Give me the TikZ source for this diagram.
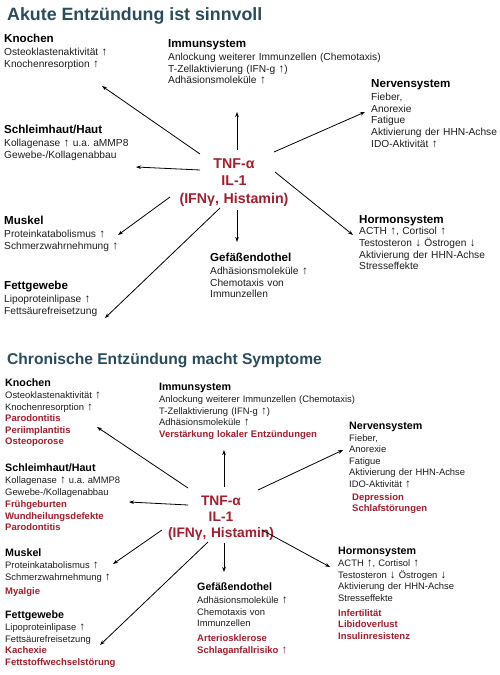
\documentclass[tikz,border=0pt]{standalone}
\usepackage{fontspec}
\setmainfont{Liberation Sans}
\usetikzlibrary{arrows.meta}
\definecolor{ttl}{HTML}{2B4C5A}
\definecolor{dred}{HTML}{A31F2E}
\definecolor{txt}{HTML}{1E1E1E}
\frenchspacing
\newcommand\hdA[1]{{\fontsize{11.6}{13}\selectfont\bfseries\color{black}#1}}
\newcommand\hdB[1]{{\fontsize{10.7}{12}\selectfont\bfseries\color{black}#1}}
\newcommand\rd[1]{{\color{dred}\fontsize{9.5}{11}\selectfont\bfseries #1}}
\newcommand\up{{\fontsize{11.5}{11}\selectfont ↑}}
\newcommand\dn{{\fontsize{11.5}{11}\selectfont ↓}}
\begin{document}
\begin{tikzpicture}[x=1pt,y=-1pt,
  blkA/.style={anchor=base west, inner sep=0pt, text width=300pt, align=left,
    font=\fontsize{10.2}{11.7}\selectfont, text=txt},
  blkB/.style={anchor=base west, inner sep=0pt, text width=300pt, align=left,
    font=\fontsize{9.4}{11.5}\selectfont, text=txt},
  tnfA/.style={anchor=base, inner sep=0pt, text width=160pt, align=center,
    font=\fontsize{14.2}{17.5}\selectfont\bfseries, text=dred},
  tnfB/.style={anchor=base, inner sep=0pt, text width=160pt, align=center,
    font=\fontsize{13.8}{16}\selectfont\bfseries, text=dred},
  ttlstyle/.style={anchor=base west, inner sep=0pt, font=\bfseries, text=ttl},
  arr/.style={draw=black, line width=0.8pt, -{Stealth[length=5pt,width=3.6pt]}}]
\fill[white] (0,0) rectangle (500,675);
\useasboundingbox (0,0) rectangle (500,675);

% ---------------- top panel ----------------
\node[ttlstyle, font=\fontsize{17.8}{20}\selectfont\bfseries] (titleA) at (7,20) {Akute Entzündung ist sinnvoll};

\node[blkA] (knA) at (4,42) {\hdA{Knochen}\\[1.6pt]
  Osteoklastenaktivität \up\\
  Knochenresorption \up};
\node[blkA] (imA) at (168,47) {\hdA{Immunsystem}\\[1.6pt]
  Anlockung weiterer Immunzellen (Chemotaxis)\\
  T-Zellaktivierung (IFN-g \up)\\
  Adhäsionsmoleküle \up};
\node[blkA] (neA) at (371,87) {\hdA{Nervensystem}\\[1.6pt]
  Fieber,\\
  Anorexie\\
  Fatigue\\
  Aktivierung der HHN-Achse\\
  IDO-Aktivität \up};
\node[blkA] (scA) at (4,133) {\hdA{Schleimhaut/Haut}\\[1.6pt]
  Kollagenase \up{} u.a. aMMP8\\
  Gewebe-/Kollagenabbau};
\node[blkA] (muA) at (4,224) {\hdA{Muskel}\\[1.6pt]
  Proteinkatabolismus \up\\
  Schmerzwahrnehmung \up};
\node[blkA] (feA) at (4,289) {\hdA{Fettgewebe}\\[1.6pt]
  Lipoproteinlipase \up\\
  Fettsäurefreisetzung};
\node[blkA] (geA) at (210,261) {\hdA{Gefäßendothel}\\[1.6pt]
  Adhäsionsmoleküle \up\\
  Chemotaxis von\\
  Immunzellen};
\node[blkA] (hoA) at (359,223) {\hdA{Hormonsystem}\\[0pt]
  ACTH \up, Cortisol \up\\
  Testosteron \dn{} Östrogen \dn\\
  Aktivierung der HHN-Achse\\
  Stresseffekte};
\node[tnfA] (tnfA) at (234,168) {TNF-α\\ IL-1\\ (IFNγ, Histamin)};

\coordinate (aKs) at (200,154); \coordinate (aKe) at (102,86);
\coordinate (aIs) at (237,150); \coordinate (aIe) at (237,112);
\coordinate (aNs) at (274,152); \coordinate (aNe) at (365,112);
\coordinate (aSs) at (200,170); \coordinate (aSe) at (136,167);
\coordinate (aMs) at (170,197); \coordinate (aMe) at (118,235);
\coordinate (aFs) at (220,208); \coordinate (aFe) at (105,318);
\coordinate (aGs) at (237,210); \coordinate (aGe) at (237,242);
\coordinate (aHs) at (275,172); \coordinate (aHe) at (353,235);
\foreach \n in {K,I,N,S,M,F,G,H} \draw[arr] (a\n s) -- (a\n e);

% ---------------- bottom panel ----------------
\node[ttlstyle, font=\fontsize{15.6}{18}\selectfont\bfseries] (titleB) at (7,364) {Chronische Entzündung macht Symptome};

\node[blkB] (knB) at (5,386) {\hdB{Knochen}\\[1.4pt]
  Osteoklastenaktivität \up\\
  Knochenresorption \up\\
  \rd{Parodontitis}\\
  \rd{Periimplantitis}\\
  \rd{Osteoporose}};
\node[blkB] (imB) at (159,390) {\hdB{Immunsystem}\\[1.4pt]
  Anlockung weiterer Immunzellen (Chemotaxis)\\
  T-Zellaktivierung (IFN-g \up)\\
  Adhäsionsmoleküle \up\\
  \rd{Verstärkung lokaler Entzündungen}};
\node[blkB] (neB) at (349,429) {\hdB{Nervensystem}\\[0.5pt]
  Fieber,\\
  Anorexie\\
  Fatigue\\
  Aktivierung der HHN-Achse\\
  IDO-Aktivität \up\\[1.5pt]
  \hspace*{3pt}\rd{Depression}\\
  \hspace*{3pt}\rd{Schlafstörungen}};
\node[blkB] (scB) at (5,471) {\hdB{Schleimhaut/Haut}\\[1.4pt]
  Kollagenase \up{} u.a. aMMP8\\
  Gewebe-/Kollagenabbau\\[1pt]
  \rd{Frühgeburten}\\
  \rd{Wundheilungsdefekte}\\
  \rd{Parodontitis}};
\node[blkB] (muB) at (5,556) {\hdB{Muskel}\\[1.4pt]
  Proteinkatabolismus \up\\
  Schmerzwahrnehmung \up\\[2.5pt]
  \rd{Myalgie}};
\node[blkB] (feB) at (5,618) {\hdB{Fettgewebe}\\[1.4pt]
  Lipoproteinlipase \up\\
  Fettsäurefreisetzung\\
  \rd{Kachexie}\\
  \rd{Fettstoffwechselstörung}};
\node[blkB] (geB) at (197,590) {\hdB{Gefäßendothel}\\[2pt]
  Adhäsionsmoleküle \up\\
  Chemotaxis von\\
  Immunzellen\\[3.5pt]
  \rd{Arteriosklerose}\\
  \rd{Schlaganfallrisiko \up}};
\node[blkB] (hoB) at (338,554) {\hdB{Hormonsystem}\\[1pt]
  ACTH \up, Cortisol \up\\
  Testosteron \dn{} Östrogen \dn\\
  Aktivierung der HHN-Achse\\
  Stresseffekte\\[3.5pt]
  \rd{Infertilität}\\
  \rd{Libidoverlust}\\
  \rd{Insulinresistenz}};
\node[tnfB] (tnfB) at (221,505) {TNF-α\\ IL-1\\ (IFNγ, Histamin)};

\coordinate (bKs) at (188,488); \coordinate (bKe) at (97,427);
\coordinate (bIs) at (224,487); \coordinate (bIe) at (224,450);
\coordinate (bNs) at (258,490); \coordinate (bNe) at (343,450);
\coordinate (bSs) at (188,505); \coordinate (bSe) at (129,502);
\coordinate (bMs) at (162,530); \coordinate (bMe) at (113,564);
\coordinate (bFs) at (208,542); \coordinate (bFe) at (100,645);
\coordinate (bGs) at (224,543); \coordinate (bGe) at (224,572);
\coordinate (bHs) at (262,530); \coordinate (bHe) at (330,567);
\foreach \n in {K,I,N,S,M,F,G,H} \draw[arr] (b\n s) -- (b\n e);
\end{tikzpicture}
\end{document}
